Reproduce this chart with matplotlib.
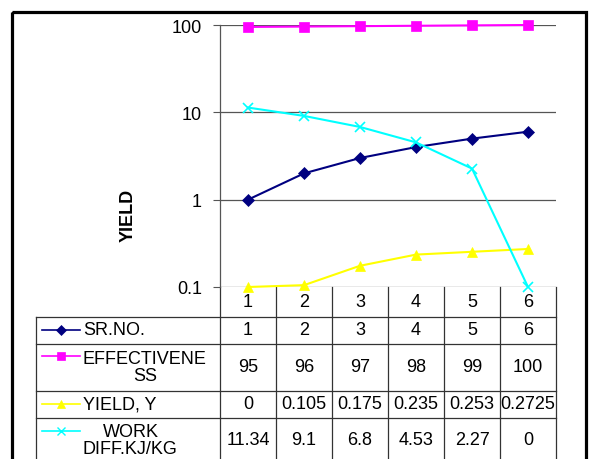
import numpy as np
import matplotlib
matplotlib.use("Agg")
import matplotlib.pyplot as plt
from matplotlib.lines import Line2D
from matplotlib.patches import Rectangle
from matplotlib.ticker import FixedLocator, FixedFormatter, NullLocator

plt.rcParams['font.family'] = ['Liberation Sans', 'DejaVu Sans']

categories = ["1", "2", "3", "4", "5", "6"]
sr_no = [1, 2, 3, 4, 5, 6]
effectiveness = [95, 96, 97, 98, 99, 100]
yield_y = [0, 0.105, 0.175, 0.235, 0.253, 0.2725]
work_diff = [11.34, 9.1, 6.8, 4.53, 2.27, 0]

sr_txt = ["1", "2", "3", "4", "5", "6"]
eff_txt = ["95", "96", "97", "98", "99", "100"]
yield_txt = ["0", "0.105", "0.175", "0.235", "0.253", "0.2725"]
work_txt = ["11.34", "9.1", "6.8", "4.53", "2.27", "0"]

series = [
    ("SR.NO.", sr_no, sr_txt, "#000080", "D", 6.5, 1.5),
    ("EFFECTIVENE\nSS", effectiveness, eff_txt, "#FF00FF", "s", 7.5, 1.5),
    ("YIELD, Y", yield_y, yield_txt, "#FFFF00", "^", 7.5, 1.5),
    ("WORK\nDIFF.KJ/KG", work_diff, work_txt, "#00FFFF", "x", 7, 1.5),
]

FS = 13
W, H = 589, 460
fig = plt.figure(figsize=(W / 100, H / 100), dpi=100)

# plot area in pixels
pl, pr, pt, pb = 220, 556, 26, 288

# overlay for frame + data table, pixel coordinates
ov = fig.add_axes([0, 0, 1, 1])
ov.set_xlim(0, W)
ov.set_ylim(H, 0)
ov.axis("off")
ov.patch.set_visible(False)

ov.add_patch(Rectangle((12, 13), 574, 470, fill=False, lw=2.3, ec="black"))

ax = fig.add_axes([pl / W, 1 - pb / H, (pr - pl) / W, (pb - pt) / H])
ax.patch.set_visible(False)
ax.set_yscale("log")
ax.set_ylim(0.1, 100)
ax.set_xlim(0, len(categories))
xs = np.arange(len(categories)) + 0.5

for label, vals, _, col, mk, ms, lw in series:
    v = np.array(vals, dtype=float)
    v = np.where(v > 0, v, 0.1)  # zero drawn at the axis floor like Excel
    ax.plot(xs, v, color=col, marker=mk, ms=ms, lw=lw, mew=1.2 if mk == "x" else 0.5,
            mec=col, clip_on=False, zorder=3)

ax.yaxis.set_major_locator(FixedLocator([0.1, 1, 10, 100]))
ax.yaxis.set_major_formatter(FixedFormatter(["0.1", "1", "10", "100"]))
ax.yaxis.set_minor_locator(NullLocator())
ax.tick_params(axis="y", direction="out", length=5, width=0.8, color="#555555",
               labelsize=FS, pad=8)
ax.set_xticks([])
ax.grid(axis="y", color="#555555", lw=0.9)
for s in ["top", "right", "bottom"]:
    ax.spines[s].set_visible(False)
ax.spines["left"].set_color("#555555")
ax.spines["left"].set_linewidth(0.9)
ov.text(128, 215, "YIELD", rotation=90, ha="center", va="center",
        fontsize=FS, fontweight="bold")

# data table
colw = (pr - pl) / len(categories)
col_edges = [pl + i * colw for i in range(len(categories) + 1)]
col_cent = [pl + (i + 0.5) * colw for i in range(len(categories))]
row_edges = [288, 318, 345, 392, 419, 475]
tl = 36
lc = "#333333"
for y in row_edges[1:-1]:
    ov.add_line(Line2D([tl, pr], [y, y], color=lc, lw=0.9))
for x in col_edges:
    ov.add_line(Line2D([x, x], [row_edges[0], H], color=lc, lw=0.9))
ov.add_line(Line2D([tl, tl], [row_edges[1], H], color=lc, lw=0.9))

for c, x in zip(categories, col_cent):
    ov.text(x, 303, c, ha="center", va="center", fontsize=FS)

key_y = [331, 357, 405, 432]
text_y = [331, 368, 405, 441]
for i, (label, vals, txt, col, mk, ms, lw) in enumerate(series):
    ov.add_line(Line2D([42, 80], [key_y[i], key_y[i]], color=col, lw=1.2))
    ov.plot([61], [key_y[i]], marker=mk, color=col, ms=ms * 0.8,
            mew=1.0 if mk == "x" else 0.5, mec=col)
    ov.text(83, text_y[i], label, ha="left", va="center", multialignment="center",
            fontsize=FS, linespacing=1.05)
    for t, x in zip(txt, col_cent):
        ov.text(x, text_y[i], t, ha="center", va="center", fontsize=FS)

fig.savefig("out.png", dpi=100)
